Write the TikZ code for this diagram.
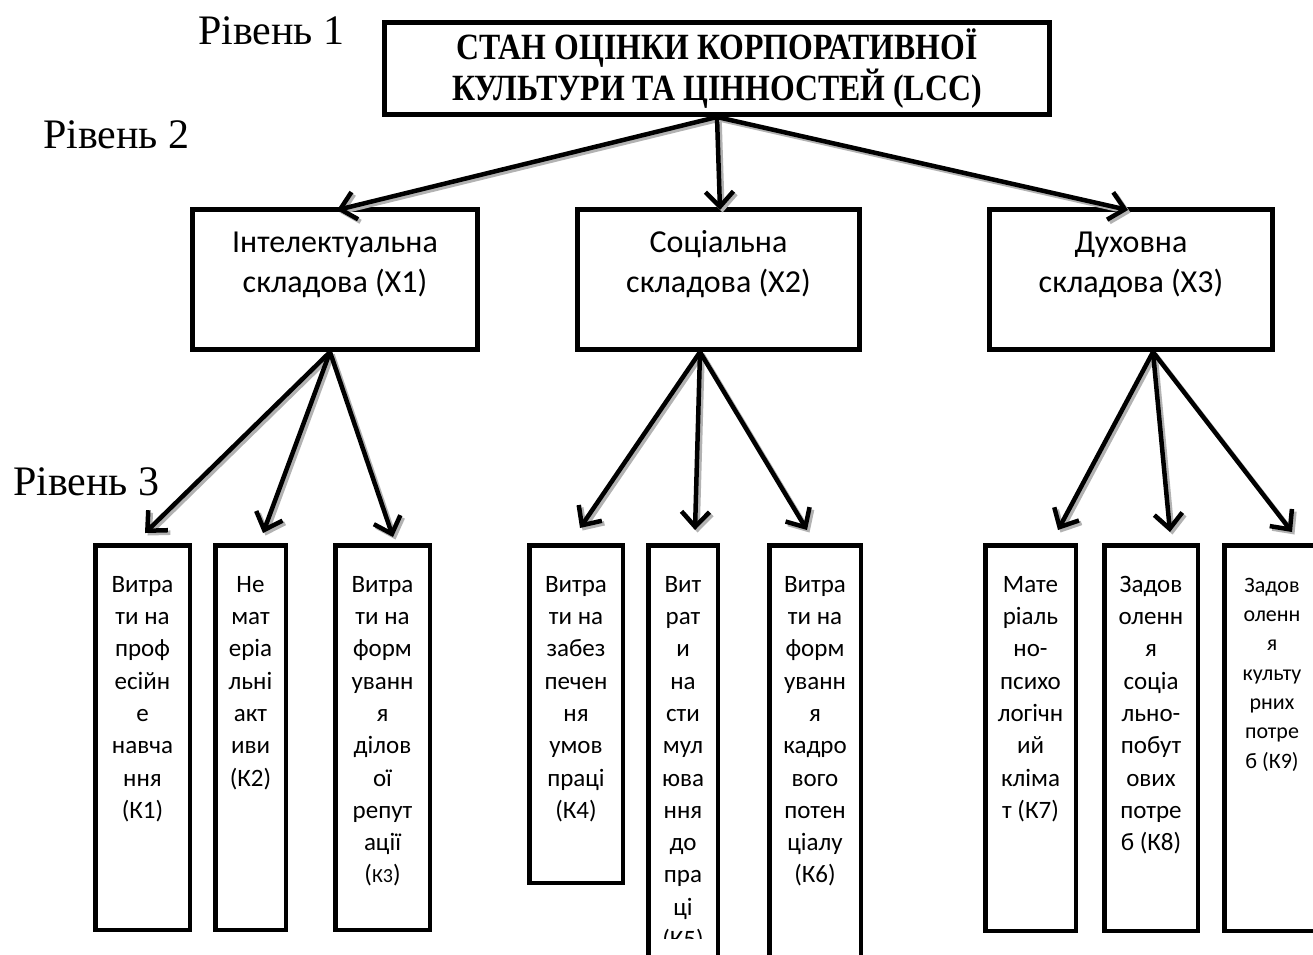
\documentclass[tikz,border=0pt]{standalone}
\usepackage{fontspec}
\setmainfont{Liberation Serif}
\newfontfamily\calib{Carlito}
\newfontfamily\tfont[FakeStretch=0.86,BoldFont={Liberation Serif Bold}]{Liberation Serif}
\usetikzlibrary{arrows.meta}
\begin{document}
\begin{tikzpicture}[x=1pt,y=-1pt,
  box/.style={draw, line width=5pt, inner sep=0pt, rectangle},
  kbox/.style={draw, line width=4.5pt, inner sep=0pt, rectangle},
  lvl/.style={font=\fontsize{42}{48}\selectfont, inner sep=0pt, anchor=base west},
  xtext/.style={font=\calib\fontsize{32}{40}\selectfont, align=center, inner sep=0pt, anchor=north},
  ktext/.style={font=\calib\fontsize{25}{32.3}\selectfont, align=center, inner sep=0pt, anchor=north},
  ksmall/.style={font=\calib\fontsize{22}{29.3}\selectfont, align=center, inner sep=0pt, anchor=north},
  arr/.style={line width=4.5pt, -{Straight Barb[length=15pt,width=28pt]},
    preaction={draw=black!30, line width=4.5pt, transform canvas={shift={(2.5pt,-2.5pt)}}}}
]
\path[use as bounding box] (0,0) rectangle (1313,954);
\clip (0,0) rectangle (1313,954);

% level labels
\node[lvl] (l1) at (198,44) {Рівень 1};
\node[lvl] (l2) at (43,148) {Рівень 2};
\node[lvl] (l3) at (13,495) {Рівень 3};

% level 1
\node[box, minimum width=665, minimum height=92, align=center,
  font=\tfont\bfseries\fontsize{37}{38}\selectfont] (top) at (717,68.5)
  {СТАН ОЦІНКИ КОРПОРАТИВНОЇ\\КУЛЬТУРИ ТА ЦІННОСТЕЙ (LCC)};

% level 2
\node[box, minimum width=285, minimum height=140] (x1) at (335,279.5) {};
\node[box, minimum width=282, minimum height=140] (x2) at (718.5,279.5) {};
\node[box, minimum width=283, minimum height=140] (x3) at (1131,279.5) {};
\node[xtext] (x1t) at ([yshift=-17]x1.north) {\strut Інтелектуальна\\складова (Х1)};
\node[xtext] (x2t) at ([yshift=-17]x2.north) {\strut Соціальна\\складова (Х2)};
\node[xtext] (x3t) at ([yshift=-17]x3.north) {\strut Духовна\\складова (Х3)};

% level 3 boxes
\node[kbox, minimum width=94.5, minimum height=384.5] (k1) at (142.5,737.5) {};
\node[kbox, minimum width=70.5, minimum height=384.5] (k2) at (250.5,737.5) {};
\node[kbox, minimum width=94.5, minimum height=384.5] (k3) at (382.5,737.5) {};
\node[kbox, minimum width=93.5, minimum height=337.5] (k4) at (576,714) {};
\node[kbox, minimum width=69.5, minimum height=432.5] (k5) at (683,761.5) {};
\node[kbox, minimum width=91.5, minimum height=432.5] (k6) at (815,761.5) {};
\node[kbox, minimum width=90.5, minimum height=385.5] (k7) at (1030.5,738) {};
\node[kbox, minimum width=93.5, minimum height=385.5] (k8) at (1151,738) {};
\node[kbox, minimum width=95.5, minimum height=385.5] (k9) at (1272,738) {};

% level 3 texts
\node[ktext] (k1t) at ([yshift=-26.4]k1.north) {\strut Витра\\ти на\\проф\\есійн\\е\\навча\\ння\\(К1)};
\node[ktext] (k2t) at ([yshift=-26.4]k2.north) {\strut Не\\мат\\еріа\\льні\\акт\\иви\\(К2)};
\node[ktext] (k3t) at ([yshift=-26.4]k3.north) {\strut Витра\\ти на\\форм\\уванн\\я\\ділов\\ої\\репут\\ації\\({\fontsize{20}{24}\selectfont К3})};
\node[ktext] (k4t) at ([yshift=-26.4]k4.north) {\strut Витра\\ти на\\забез\\печен\\ня\\умов\\праці\\(К4)};
\begin{scope}
\clip (646,543) rectangle (720,938);
\node[ktext] (k5t) at ([yshift=-26.4]k5.north) {\strut Вит\\рат\\и\\на\\сти\\мул\\юва\\ння\\до\\пра\\ці\\(К5)};
\end{scope}
\node[ktext] (k6t) at ([yshift=-26.4]k6.north) {\strut Витра\\ти на\\форм\\уванн\\я\\кадро\\вого\\потен\\ціалу\\(К6)};
\node[ktext] (k7t) at ([yshift=-26.4]k7.north) {\strut Мате\\ріаль\\но-\\психо\\логічн\\ий\\кліма\\т (К7)};
\node[ktext] (k8t) at ([yshift=-26.4]k8.north) {\strut Задов\\оленн\\я\\соціа\\льно-\\побут\\ових\\потре\\б (К8)};
\node[ksmall] (k9t) at ([yshift=-28.5]k9.north) {\strut Задов\\оленн\\я\\культу\\рних\\потре\\б (К9)};

% arrows level 1 -> 2
\draw[arr] (top.south) -- ([xshift=2,yshift=-3]x1.north);
\draw[arr] (top.south) -- ([xshift=1.5,yshift=-3]x2.north);
\draw[arr] (top.south) -- ([xshift=-3,yshift=-3]x3.north);

% arrows level 2 -> 3
\draw[arr] ([xshift=-5]x1.south) -- ([xshift=2.5,yshift=10]k1.north);
\draw[arr] ([xshift=-5]x1.south) -- ([xshift=12.5,yshift=10]k2.north);
\draw[arr] ([xshift=-5]x1.south) -- ([xshift=10.5,yshift=6]k3.north);
\draw[arr] ([xshift=-18.5]x2.south) -- ([xshift=4,yshift=15]k4.north);
\draw[arr] ([xshift=-18.5]x2.south) -- ([xshift=12,yshift=13]k5.north);
\draw[arr] ([xshift=-18.5]x2.south) -- ([xshift=-8,yshift=13]k6.north);
\draw[arr] ([xshift=22]x3.south) -- ([xshift=27.5,yshift=13]k7.north);
\draw[arr] ([xshift=22]x3.south) -- ([xshift=19,yshift=11]k8.north);
\draw[arr] ([xshift=22]x3.south) -- ([xshift=20,yshift=11]k9.north);
\end{tikzpicture}
\end{document}
